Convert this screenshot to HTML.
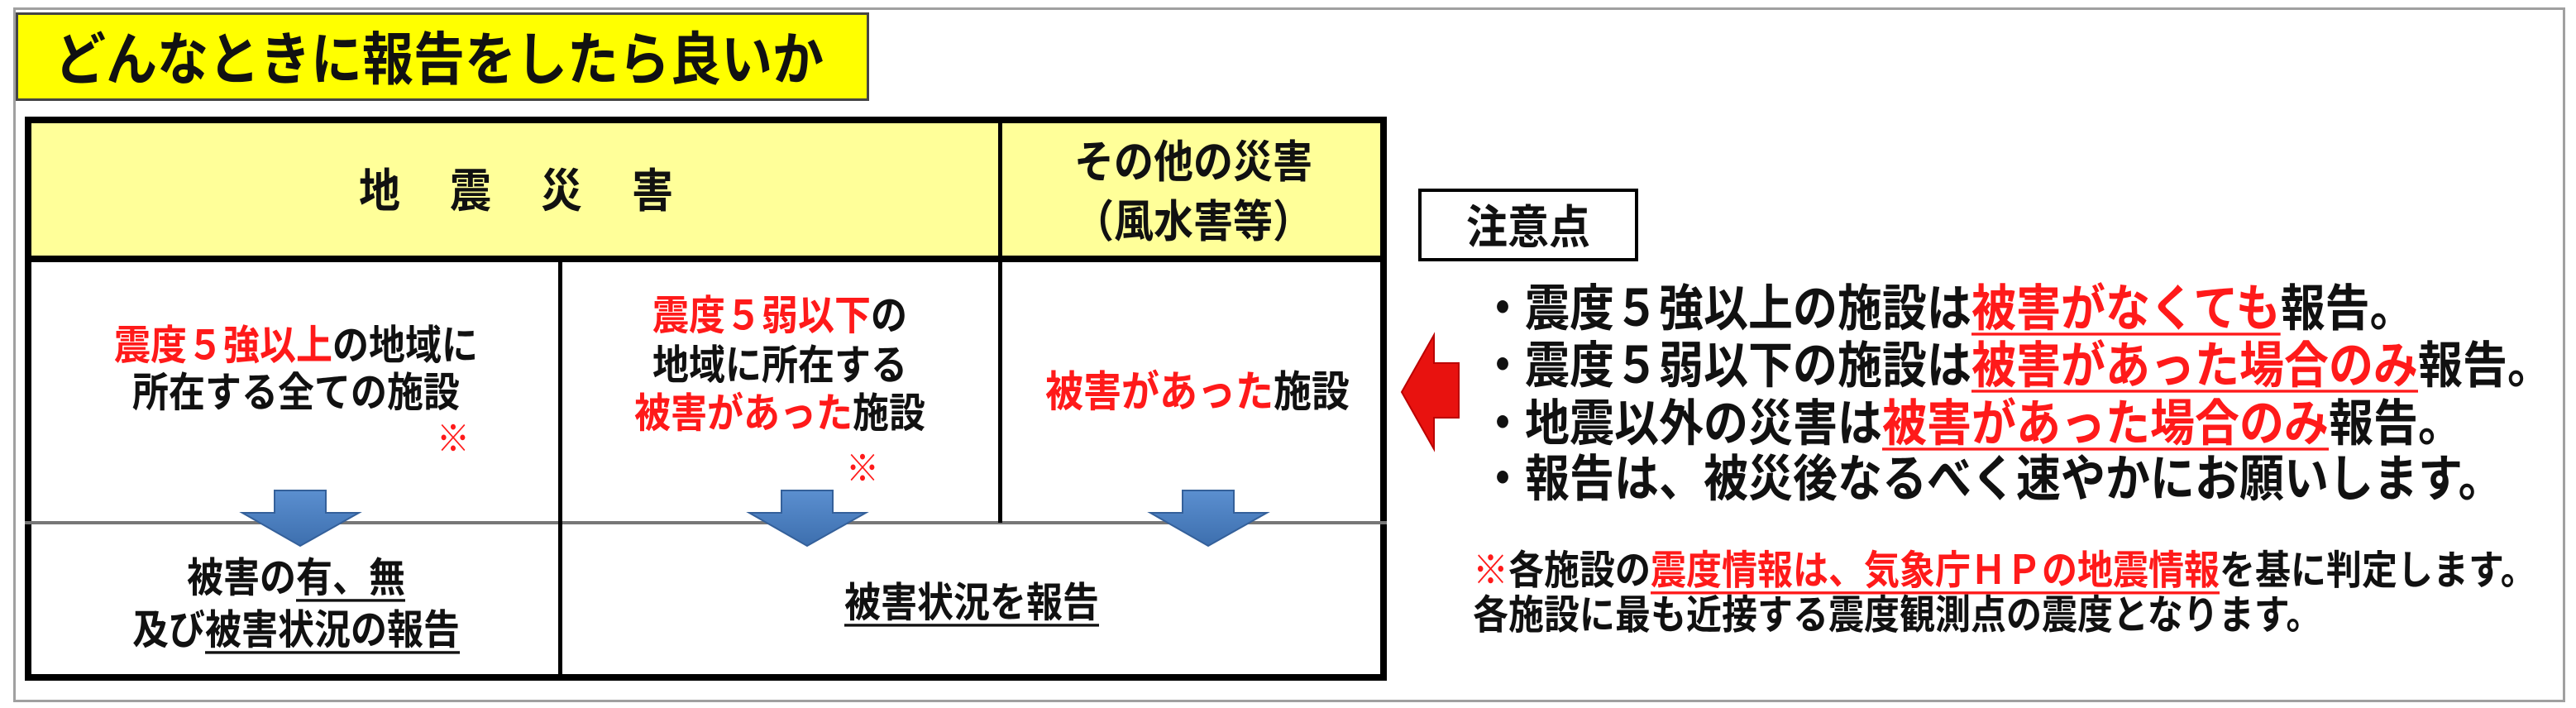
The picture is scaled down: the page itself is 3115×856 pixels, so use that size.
<!DOCTYPE html>
<html><head><meta charset="utf-8"><style>
*{margin:0;padding:0;box-sizing:border-box}
body{width:3115px;height:856px;background:#fff;position:relative;overflow:hidden;font-family:"Liberation Sans","Noto Sans CJK JP",sans-serif;font-weight:bold;color:#111}
.a{position:absolute}
.c{position:absolute;text-align:center;white-space:nowrap;transform:translate(-50%,-50%) scaleY(1.12)}
.l{position:absolute;white-space:nowrap;transform:translateY(-50%) scaleY(1.12)}
.r{color:#ff1a1a}
.u{text-decoration:underline;text-decoration-thickness:3px;text-underline-offset:8px}
</style></head><body>
<div class="a" style="left:16px;top:9px;width:3086px;height:840px;border:3px solid #a0a0a0"></div>
<div class="a" style="left:19px;top:15px;width:1032px;height:107px;background:#ffff00;border:3px solid #444"></div>
<div class="l" style="left:66px;top:66px;font-size:62px;font-weight:bold">どんなときに報告をしたら良いか</div>

<div class="a" style="left:30px;top:141px;width:1647px;height:173px;background:#ffff99"></div>
<div class="a" style="left:30px;top:141px;width:1647px;height:682px;border:8px solid #000"></div>
<div class="a" style="left:30px;top:309px;width:1647px;height:8px;background:#000"></div>
<div class="a" style="left:30px;top:630px;width:1647px;height:4px;background:#777"></div>
<div class="a" style="left:675px;top:309px;width:5px;height:514px;background:#000"></div>
<div class="a" style="left:1207px;top:141px;width:5px;height:491px;background:#000"></div>

<div class="c" style="left:624px;top:227px;font-size:50px;letter-spacing:60px;padding-left:60px">地震災害</div>
<div class="c" style="left:1443px;top:191px;font-size:48px">その他の災害</div>
<div class="c" style="left:1443px;top:263px;font-size:48px">（風水害等）</div>

<div class="c" style="left:358px;top:413px;font-size:44px"><span class="r">震度５強以上</span>の地域に</div>
<div class="c" style="left:358px;top:470px;font-size:44px">所在する全ての施設</div>
<div class="c r" style="left:548px;top:527px;font-size:40px;font-weight:normal">※</div>

<div class="c" style="left:943px;top:377px;font-size:44px"><span class="r">震度５弱以下</span>の</div>
<div class="c" style="left:943px;top:437px;font-size:44px">地域に所在する</div>
<div class="c" style="left:943px;top:495px;font-size:44px"><span class="r">被害があった</span>施設</div>
<div class="c r" style="left:1043px;top:563px;font-size:40px;font-weight:normal">※</div>

<div class="c" style="left:1448px;top:470px;font-size:46px"><span class="r">被害があった</span>施設</div>

<svg class="a" style="left:0;top:0" width="3115" height="856">
<defs><linearGradient id="g" x1="0" x2="0" y1="0" y2="1"><stop offset="0" stop-color="#5b8fd0"/><stop offset="1" stop-color="#3d6fae"/></linearGradient></defs>
<g fill="url(#g)" stroke="#34609a" stroke-width="2">
<polygon points="332,593 394,593 394,620 434,620 363,660 293,620 332,620"/>
<polygon points="945,593 1007,593 1007,620 1047,620 976,660 906,620 945,620"/>
<polygon points="1430,593 1492,593 1492,620 1532,620 1461,660 1391,620 1430,620"/>
</g>
<polygon points="1695,474 1734,405 1734,439 1764,439 1764,505 1734,505 1734,543" fill="#e8120f" stroke="#b00" stroke-width="2"/>
</svg>

<div class="c" style="left:358px;top:694px;font-size:44px">被害の<span class="u">有、無</span></div>
<div class="c" style="left:358px;top:757px;font-size:44px">及び<span class="u">被害状況の報告</span></div>
<div class="c" style="left:1175px;top:724px;font-size:44px"><span class="u">被害状況を報告</span></div>

<div class="a" style="left:1715px;top:228px;width:266px;height:88px;border:4px solid #000"></div>
<div class="c" style="left:1848px;top:271px;font-size:50px">注意点</div>
<div class="l" style="left:1790px;top:367px;font-size:54px">・震度５強以上の施設は<span class="r u">被害がなくても</span>報告。</div>
<div class="l" style="left:1790px;top:436px;font-size:54px">・震度５弱以下の施設は<span class="r u">被害があった場合のみ</span>報告。</div>
<div class="l" style="left:1790px;top:506px;font-size:54px">・地震以外の災害は<span class="r u">被害があった場合のみ</span>報告。</div>
<div class="l" style="left:1790px;top:573px;font-size:54px">・報告は、被災後なるべく速やかにお願いします。</div>
<div class="l" style="left:1781px;top:686px;font-size:43px"><span class="r">※</span>各施設の<span class="r u">震度情報は、気象庁ＨＰの地震情報</span>を基に判定します。</div>
<div class="l" style="left:1781px;top:740px;font-size:43px">各施設に最も近接する震度観測点の震度となります。</div>
</body></html>
